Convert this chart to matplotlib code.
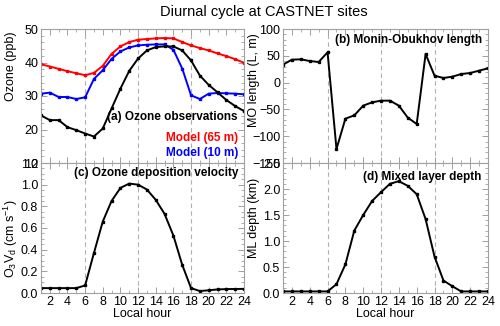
import matplotlib
matplotlib.use("Agg")
import matplotlib.pyplot as plt
from matplotlib.ticker import MultipleLocator

plt.rcParams['font.family'] = ['Liberation Sans', 'DejaVu Sans']
plt.rcParams['mathtext.default'] = 'regular'

hours = list(range(1, 25))
ozone_obs = [24.2, 22.8, 22.8, 20.7, 19.8, 18.8, 17.9, 20.3, 26.3, 32.2, 37.5, 41.2,
             43.6, 44.6, 44.8, 44.8, 43.6, 40.6, 36.1, 33.3, 31.1, 28.8, 27.0, 25.5]
ozone_m65 = [39.5, 38.8, 38.1, 37.4, 36.8, 36.2, 36.9, 39.0, 42.6, 44.8, 46.1, 46.8,
             47.0, 47.2, 47.3, 47.2, 46.1, 45.1, 44.3, 43.6, 42.7, 41.9, 41.0, 39.9]
ozone_m10 = [30.7, 31.0, 29.7, 29.7, 29.1, 29.6, 35.1, 37.7, 41.1, 43.3, 44.5, 45.1,
             45.3, 45.4, 45.4, 43.8, 38.2, 30.2, 29.1, 30.7, 30.9, 30.8, 30.7, 30.5]
mo_length = [33.5, 42.8, 43.4, 40.3, 38.4, 56.5, -123.9, -67.3, -61.1, -43.0, -36.8, -33.7,
             -33.7, -43.0, -65.4, -77.2, 53.4, 12.9, 8.6, 11.1, 16.0, 17.9, 22.3, 26.6]
dep_vel = [0.045, 0.045, 0.045, 0.045, 0.045, 0.07, 0.37, 0.66, 0.85, 0.97, 1.01, 1.0,
           0.955, 0.86, 0.73, 0.53, 0.26, 0.045, 0.018, 0.025, 0.033, 0.036, 0.037, 0.038]
ml_depth = [0.03, 0.03, 0.03, 0.03, 0.03, 0.03, 0.17, 0.55, 1.2, 1.5, 1.77, 1.94,
            2.10, 2.15, 2.06, 1.90, 1.42, 0.70, 0.24, 0.13, 0.03, 0.03, 0.03, 0.03]

xticks = [2, 4, 6, 8, 10, 12, 14, 16, 18, 20, 22, 24]

fig = plt.figure(figsize=(5.0, 3.26), dpi=100)
W, H = 500.0, 326.0
def ax_at(x0, y0, x1, y1):
    return fig.add_axes([x0 / W, 1 - y1 / H, (x1 - x0) / W, (y1 - y0) / H])

axa = ax_at(41, 29, 244, 163)
axb = ax_at(283, 29, 488, 163)
axc = ax_at(41, 163, 244, 293)
axd = ax_at(283, 163, 488, 293)

frame = '#a0a0a0'
fs = 9.0

def style(ax, ylim, major, minor, show_x):
    ax.set_xlim(1, 24)
    ax.set_ylim(*ylim)
    ax.xaxis.set_major_locator(plt.FixedLocator(xticks))
    ax.xaxis.set_minor_locator(MultipleLocator(1))
    ax.yaxis.set_major_locator(MultipleLocator(major))
    ax.yaxis.set_minor_locator(MultipleLocator(minor))
    ax.tick_params(which='both', direction='in', top=True, right=True, color=frame,
                   labelsize=fs, pad=2)
    ax.tick_params(which='major', length=4, width=0.7)
    ax.tick_params(which='minor', length=2, width=0.6)
    for s in ax.spines.values():
        s.set_color(frame)
        s.set_linewidth(0.8)
    if not show_x:
        ax.tick_params(labelbottom=False)
    else:
        ax.set_xlabel('Local hour', fontsize=fs, labelpad=0)
    for xv in (6, 12, 18):
        ax.axvline(xv, color='#b0b0b0', ls=(0, (4, 3)), lw=0.8, zorder=0)

line_kw = dict(lw=1.4, marker='s', ms=1.8)

axa.plot(hours, ozone_m65, color='#ff0000', **line_kw)
axa.plot(hours, ozone_m10, color='#0000ff', **line_kw)
axa.plot(hours, ozone_obs, color='black', **line_kw)
style(axa, (10, 50), 10, 2, False)
axa.set_ylabel('Ozone (ppb)', fontsize=fs, va='center')
axa.yaxis.set_label_coords(-0.15, 0.72)
axa.text(0.97, 0.345, '(a) Ozone observations', transform=axa.transAxes, ha='right',
         va='center', fontsize=8.5, fontweight='bold', color='black')
axa.text(0.97, 0.185, 'Model (65 m)', transform=axa.transAxes, ha='right',
         va='center', fontsize=8.5, fontweight='bold', color='#ff0000')
axa.text(0.97, 0.075, 'Model (10 m)', transform=axa.transAxes, ha='right',
         va='center', fontsize=8.5, fontweight='bold', color='#0000ff')

axb.plot(hours, mo_length, color='black', **line_kw)
style(axb, (-150, 100), 50, 10, False)
axb.set_ylabel('MO length (L, m)', fontsize=fs, va='center')
axb.yaxis.set_label_coords(-0.14, 0.62)
axb.text(0.97, 0.92, '(b) Monin-Obukhov length', transform=axb.transAxes, ha='right',
         va='center', fontsize=8.5, fontweight='bold')

axc.plot(hours, dep_vel, color='black', **line_kw)
style(axc, (0, 1.2), 0.2, 0.05, True)
axc.set_ylabel('O$_3$V$_d$ (cm s$^{-1}$)', fontsize=fs, va='center')
axc.yaxis.set_label_coords(-0.15, 0.42)
axc.text(0.97, 0.92, '(c) Ozone deposition velocity', transform=axc.transAxes, ha='right',
         va='center', fontsize=8.5, fontweight='bold')

axd.plot(hours, ml_depth, color='black', **line_kw)
style(axd, (0, 2.5), 0.5, 0.1, True)
axd.set_ylabel('ML depth (km)', fontsize=fs, va='center')
axd.yaxis.set_label_coords(-0.14, 0.58)
axd.text(0.97, 0.89, '(d) Mixed layer depth', transform=axd.transAxes, ha='right',
         va='center', fontsize=8.5, fontweight='bold')

fig.text(264 / W, 1 - 12 / H, 'Diurnal cycle at CASTNET sites', ha='center', va='center',
         fontsize=10.5)

fig.savefig('out.png', dpi=100)
